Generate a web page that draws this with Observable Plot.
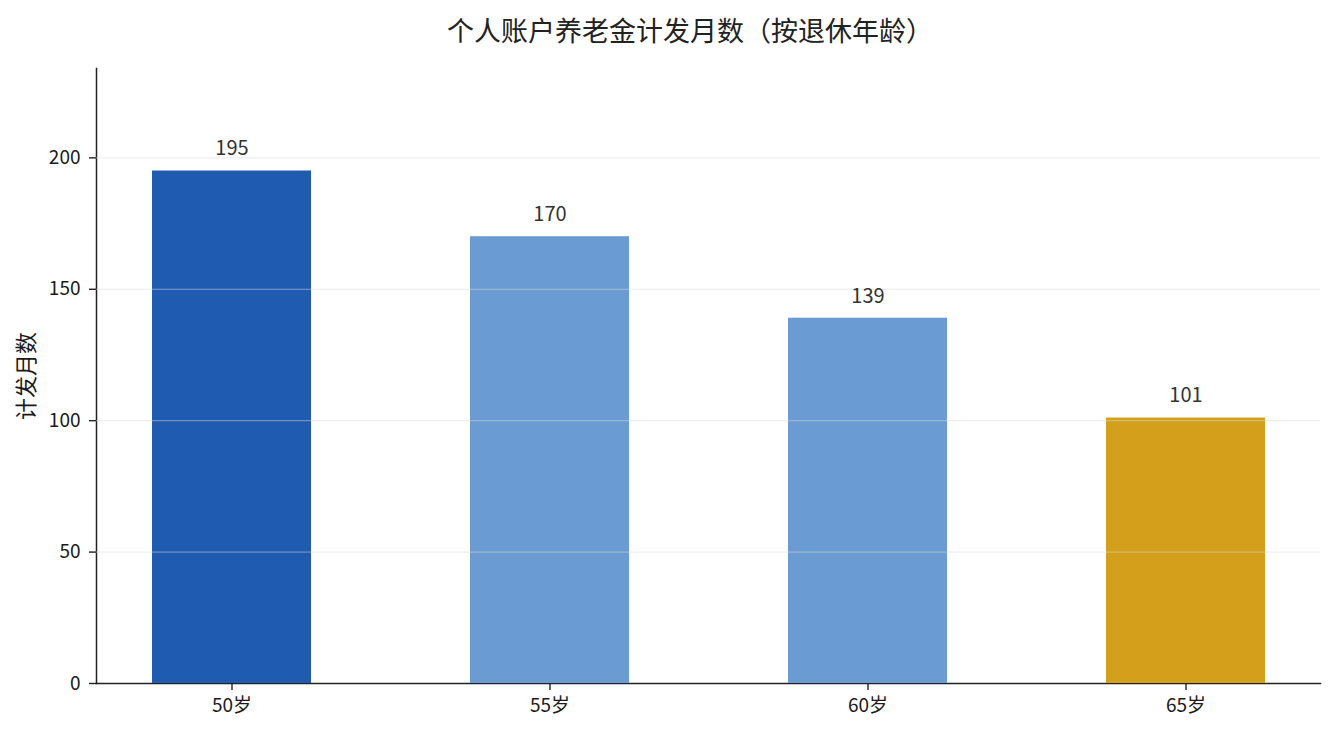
<!DOCTYPE html>
<html><head><meta charset="utf-8">
<script src="https://cdn.jsdelivr.net/npm/d3@7"></script>
<script src="https://cdn.jsdelivr.net/npm/@observablehq/plot@0.6"></script>
<style>
body{margin:0;background:#fff;font-family:"Noto Sans CJK SC","Noto Sans",sans-serif;}
#title{box-sizing:border-box;height:56px;line-height:60px;padding-left:46px;text-align:center;font-size:27px;color:#222;white-space:nowrap;}
g[aria-label="y-axis label"]{font-size:22px;}
[aria-label="frame"]{stroke-width:1.5px;stroke:#222;}
g[aria-label="y-axis tick"], g[aria-label="x-axis tick"]{stroke-width:1.4px;stroke:#222;}
</style></head>
<body>
<div id="title">个人账户养老金计发月数（按退休年龄）</div>
<div id="chart"></div>
<script>
const categories = ["50岁", "55岁", "60岁", "65岁"];
const values = [195, 170, 139, 101];
const colors = ["#1f5bb0", "#6b9bd3", "#6b9bd3", "#d4a01b"];
const yTicks = [0, 50, 100, 150, 200];
const yMax = 234;

const data = categories.map((c, i) => ({cat: c, value: values[i], color: colors[i]}));

const chart = Plot.plot({
  width: 1334,
  height: 679,
  marginTop: 12,
  marginBottom: 52,
  marginLeft: 96,
  marginRight: 14,
  style: {fontFamily: '"Noto Sans CJK SC","Noto Sans",sans-serif', fontSize: "19px", color: "#1a1a1a", background: "#fff"},
  x: {domain: categories, paddingInner: 0.5, paddingOuter: 0.1745, label: null, line: true, tickSize: 7, tickPadding: 8},
  y: {domain: [0, yMax], ticks: yTicks, label: "计发月数", labelAnchor: "center", labelArrow: "none", labelOffset: 78, line: true, tickSize: 7, tickPadding: 9},
  marks: [
    Plot.barY(data, {x: "cat", y: "value", fill: "color"}),
    Plot.ruleY(yTicks.slice(1), {stroke: "#d8d8d8", strokeOpacity: 0.55, strokeWidth: 1}),
    Plot.text(data, {x: "cat", y: "value", text: d => String(d.value), dy: -22, fill: "#333", fontSize: 20})
  ]
});
document.getElementById("chart").appendChild(chart);
</script>
</body></html>
